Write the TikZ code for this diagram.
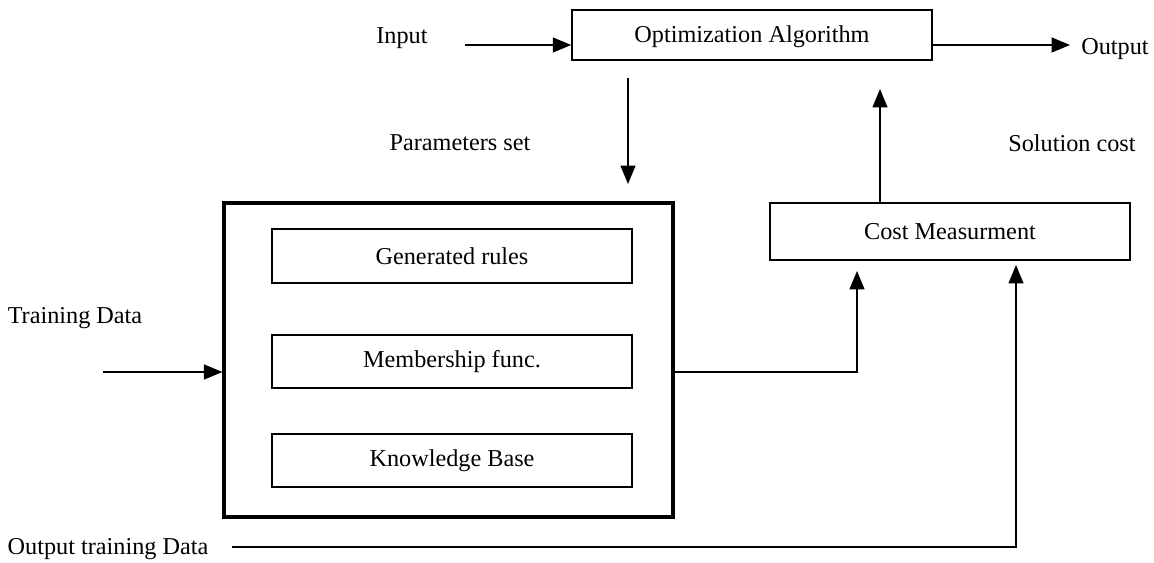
\documentclass[tikz,border=0pt]{standalone}
\usepackage{fontspec}
\setmainfont{Liberation Serif}
\usetikzlibrary{arrows.meta}
\begin{document}
\begin{tikzpicture}[x=0.02cm,y=-0.02cm,
  box/.style={draw,line width=0.9pt,minimum height=#1*0.02cm,inner sep=0pt},
  lbl/.style={font=\fontsize{13.8pt}{16pt}\selectfont,inner sep=0pt},
  arr/.style={line width=0.9pt,-{Triangle[length=10.5pt,width=8.5pt]}},
  ln/.style={line width=0.9pt}]
\useasboundingbox (0,0) rectangle (1154,563);
% boxes
\node[box=50,minimum width=360*0.02cm,lbl] (opt) at (752,35) {};
\node[lbl] (optt) at (752,37) {Optimization Algorithm};
\node[draw,line width=1.8pt,minimum width=449*0.02cm,minimum height=314*0.02cm,inner sep=0pt] (big) at (448.5,360) {};
\node[box=54,minimum width=360*0.02cm,lbl] (gen) at (452,256) {Generated rules};
\node[box=53,minimum width=360*0.02cm,lbl] (mem) at (452,361.5) {Membership func.};
\node[box=53,minimum width=360*0.02cm,lbl] (kb) at (452,460.5) {Knowledge Base};
\node[box=57,minimum width=360*0.02cm,lbl] (cost) at (950,231.5) {Cost Measurment};
% labels
\node[lbl] (input) at (402,38) {Input};
\node[lbl] (output) at (1115,49) {Output};
\node[lbl] (params) at (460,143) {Parameters set};
\node[lbl] (solcost) at (1072,143) {Solution cost};
\node[lbl] (train) at (75,318) {Training Data};
\node[lbl] (otrain) at (108,549) {Output training Data};
% coordinates
\coordinate (inS) at (465,45);
\coordinate (outE) at (1070,45);
\coordinate (pS) at (628,78);
\coordinate (pE) at (628,184);
\coordinate (cE) at (880,89);
\coordinate (tS) at (103,372);
\coordinate (mE) at (857,271);
\coordinate (oS) at (232,547);
\coordinate (oE) at (1016,265);
% connectors
\draw[arr] (inS) -- (inS -| opt.west);
\draw[arr] (opt.east |- outE) -- (outE);
\draw[arr] (pS) -- (pE);
\draw[arr] (cost.north -| cE) -- (cE);
\draw[arr] (tS) -- (tS -| big.west);
\draw[arr] (big.east |- tS) -| (mE);
\draw[arr] (oS) -| (oE);
\end{tikzpicture}
\end{document}
